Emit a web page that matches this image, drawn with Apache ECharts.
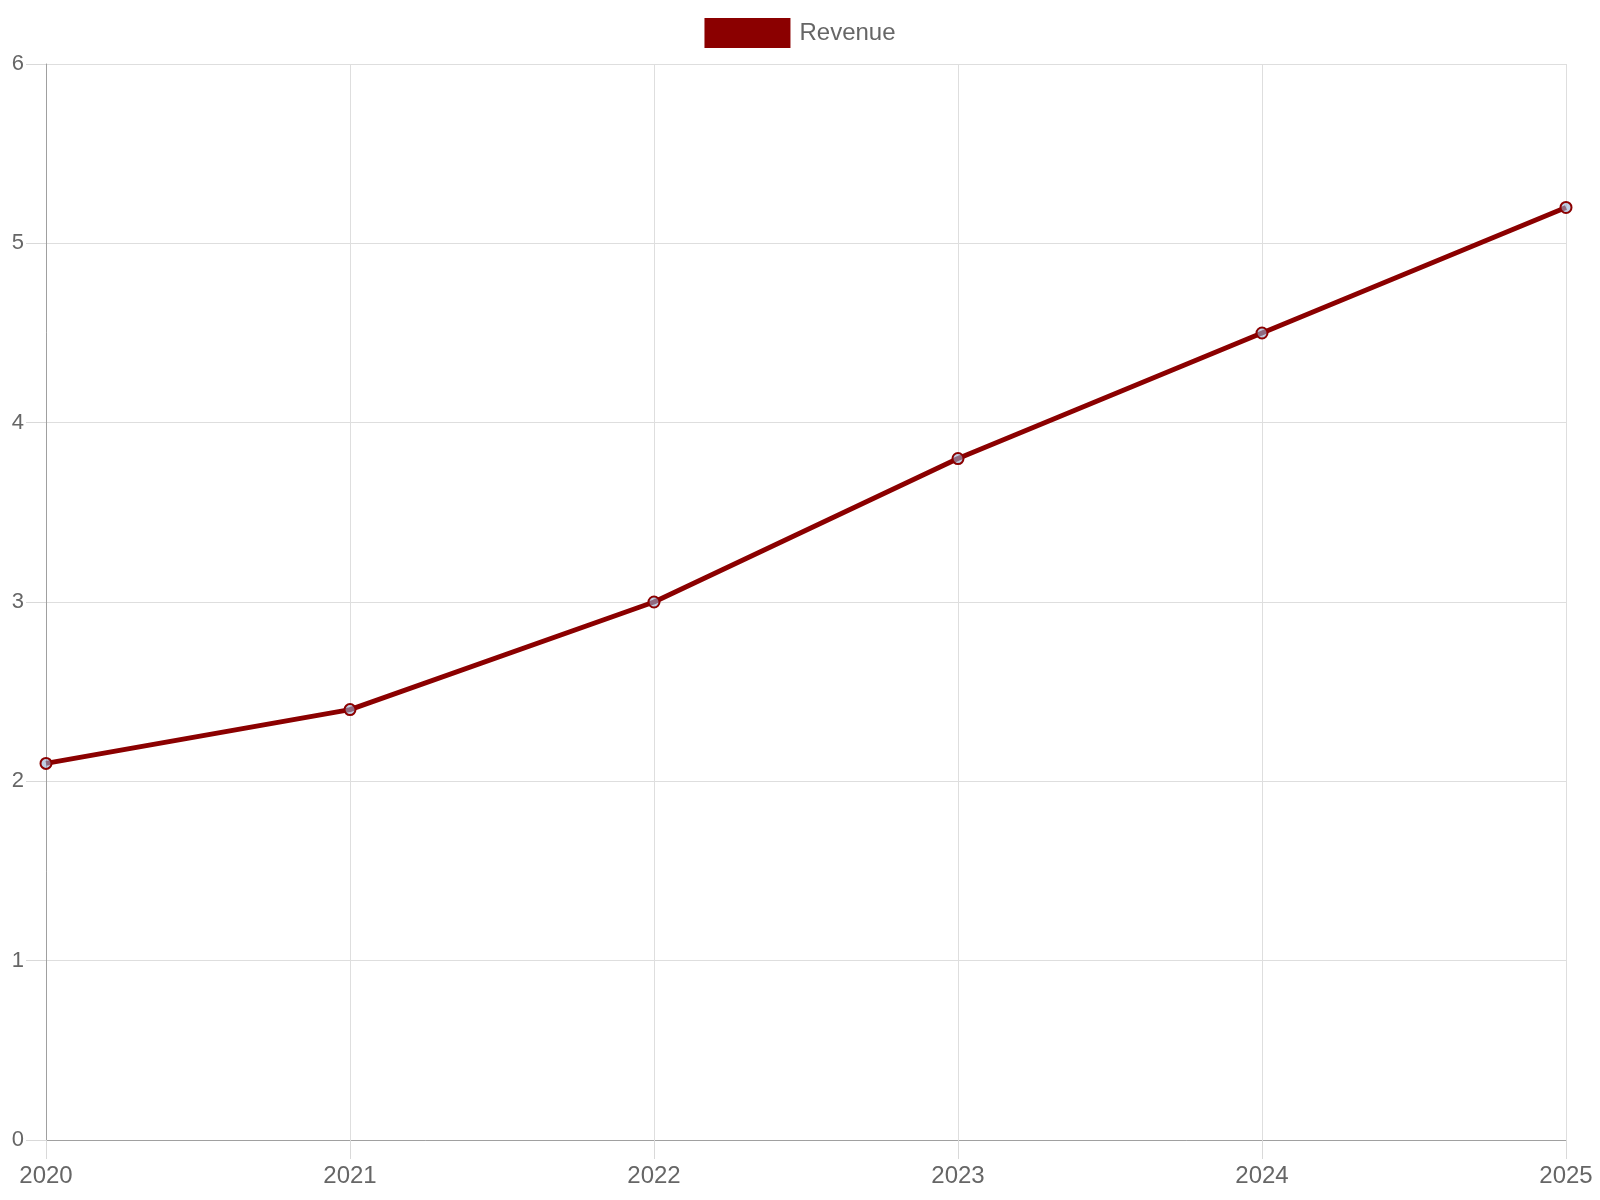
<!DOCTYPE html>
<html>
<head>
<meta charset="utf-8">
<script src="https://cdn.jsdelivr.net/npm/echarts@6/dist/echarts.min.js"></script>
<style>
    html, body { margin: 0; padding: 0; background: #fff; }
    #chart { width: 1600px; height: 1200px; }
</style>
</head>
<body>
<div id="chart"></div>
<script>
const years = ['2020', '2021', '2022', '2023', '2024', '2025']
const revenue = [2.1, 2.4, 3.0, 3.8, 4.5, 5.2]
const seriesName = 'Revenue'

const chart = echarts.init(document.getElementById('chart'))
const font = '"Liberation Sans", Arial, Helvetica, sans-serif'

const option = {
    animation: false,
    textStyle: { fontFamily: font },
    legend: {
        top: 13,
        left: 'center',
        icon: 'rect',
        itemWidth: 86,
        itemHeight: 30,
        itemStyle: { color: '#8b0000', borderWidth: 0 },
        textStyle: { fontSize: 24, color: '#666', fontFamily: font, padding: [0, 0, 0, 4] },
        data: [seriesName]
    },
    grid: { left: 46, right: 34, top: 64, bottom: 60 },
    xAxis: {
        type: 'category',
        data: years,
        boundaryGap: false,
        axisLine: { lineStyle: { color: '#a0a0a0', width: 1 } },
        axisTick: { show: true, length: 19, lineStyle: { color: '#d9d9d9' } },
        axisLabel: { fontSize: 24, color: '#666', margin: 24, fontFamily: font },
        splitLine: { show: true, lineStyle: { color: '#dedede' } }
    },
    yAxis: {
        type: 'value',
        min: 0,
        max: 6,
        interval: 1,
        axisLine: { show: true, lineStyle: { color: '#a0a0a0', width: 1 } },
        axisTick: { show: true, length: 20, lineStyle: { color: '#d9d9d9' } },
        axisLabel: { fontSize: 22, color: '#666', margin: 22, fontFamily: font },
        splitLine: { show: true, lineStyle: { color: '#dedede' } }
    },
    series: [
        {
            name: seriesName,
            type: 'line',
            data: revenue,
            symbol: 'circle',
            symbolSize: 11,
            lineStyle: { color: '#8b0000', width: 5 },
            itemStyle: { color: 'rgba(150, 175, 210, 0.6)', borderColor: '#8b0000', borderWidth: 2 }
        }
    ]
}
chart.setOption(option)
</script>
</body>
</html>
